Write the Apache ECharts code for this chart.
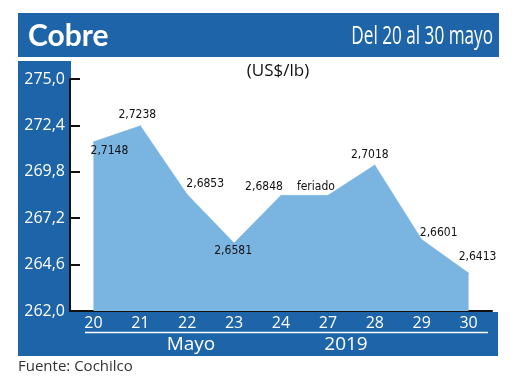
<!DOCTYPE html>
<html>
<head>
<meta charset="utf-8">
<script src="https://cdn.jsdelivr.net/npm/echarts@6/dist/echarts.min.js"></script>
<style>
html,body{margin:0;padding:0;background:#fff;}
#chart{width:520px;height:390px;}
</style>
</head>
<body>
<div id="chart"></div>
<script>
// ---- data ----
const days = ['20', '21', '22', '23', '24', '27', '28', '29', '30'];
// copper price in US cents per lb (axis units); labels show US$/lb
const prices = [271.48, 272.38, 268.53, 265.81, 268.48, 268.48, 270.18, 266.01, 264.13];
const notes = ['', '', '', '', '', 'feriado', '', '', ''];
const yTickLabels = ['262,0', '264,6', '267,2', '269,8', '272,4', '275,0'];
const monthLabel = 'Mayo';
const yearLabel = '2019';

// ---- layout / style ----
const BLUE = '#1d64a8';
const AREA = '#7ab4e0';
const labelOffsets = [[16, 9], [-3, -11], [18, -11], [-1, 8], [-17, -8], [-12, -8], [-5, -10], [17, -7], [9, -16]];
const condensed = "'Liberation Sans Narrow','DejaVu Sans Condensed',sans-serif";

const chart = echarts.init(document.getElementById('chart'), null, {renderer: 'canvas'});

const seriesData = prices.map((v, i) => ({
  value: v,
  label: {offset: labelOffsets[i]}
}));

chart.setOption({
  animation: false,
  grid: {left: 70, right: 28, top: 79, bottom: 79},
  xAxis: {
    type: 'category',
    data: days,
    boundaryGap: true,
    axisLine: {show: true, lineStyle: {color: '#111', width: 2}},
    axisTick: {show: false},
    axisLabel: {color: '#fff', fontSize: 16, fontFamily: "'Open Sans',sans-serif", margin: 4},
    splitLine: {show: false}
  },
  yAxis: [
    {
      type: 'value', min: 262, max: 275, show: false
    },
    {
      type: 'value', min: 0, max: 13, interval: 2.6, position: 'left',
      axisLine: {show: true, lineStyle: {color: '#111', width: 2}},
      axisTick: {show: true, inside: true, length: 10, lineStyle: {color: '#111', width: 2}},
      axisLabel: {
        color: '#fff', fontSize: 16, fontFamily: "'Open Sans',sans-serif", margin: 5,
        formatter: (v) => yTickLabels[Math.round(v / 2.6)]
      },
      splitLine: {show: false}
    }
  ],
  series: [{
    type: 'line',
    yAxisIndex: 0,
    data: seriesData,
    symbol: 'circle',
    symbolSize: 1,
    showSymbol: true,
    itemStyle: {color: AREA},
    lineStyle: {color: AREA, width: 0.5},
    areaStyle: {color: AREA, opacity: 1, origin: 'start'},
    z: 3,
    label: {
      show: true,
      position: 'inside',
      color: '#111',
      fontSize: 12,
      fontFamily: condensed,
      formatter: (p) => notes[p.dataIndex] ? notes[p.dataIndex] : (p.value / 100).toFixed(4).replace('.', ',')
    }
  }],
  graphic: [
    {type: 'rect', z: -10, shape: {x: 18, y: 13, width: 481, height: 44}, style: {fill: BLUE}},
    {type: 'rect', z: -10, shape: {x: 18, y: 61, width: 53, height: 295}, style: {fill: BLUE}},
    {type: 'rect', z: -10, shape: {x: 18, y: 312, width: 480, height: 44}, style: {fill: BLUE}},
    {type: 'line', z: -5, shape: {x1: 85, y1: 332.5, x2: 488, y2: 332.5}, style: {stroke: '#fff', lineWidth: 1.5}},
    {type: 'text', z: 50, x: 191, y: 345, style: {text: monthLabel, fill: '#fff', font: "19px 'Open Sans',sans-serif", align: 'center', verticalAlign: 'middle'}},
    {type: 'text', z: 50, x: 346, y: 345, style: {text: yearLabel, fill: '#fff', font: "19px 'Open Sans',sans-serif", align: 'center', verticalAlign: 'middle'}},
    {type: 'text', z: 50, x: 28, y: 36, style: {text: 'Cobre', fill: '#fff', font: "bold 30px Lato,sans-serif", align: 'left', verticalAlign: 'middle'}},
    {type: 'text', z: 50, x: 493, y: 37, scaleX: 0.66, style: {text: 'Del 20 al 30 mayo', fill: '#fff', font: "26px 'Open Sans',sans-serif", align: 'right', verticalAlign: 'middle'}},
    {type: 'text', z: 50, x: 278, y: 71, style: {text: '(US$/lb)', fill: '#111', font: "17px 'Open Sans',sans-serif", align: 'center', verticalAlign: 'middle'}},
    {type: 'text', z: 50, x: 18, y: 367, style: {text: 'Fuente: Cochilco', fill: '#333', font: "15px 'Open Sans',sans-serif", align: 'left', verticalAlign: 'middle'}}
  ]
});
</script>
</body>
</html>
